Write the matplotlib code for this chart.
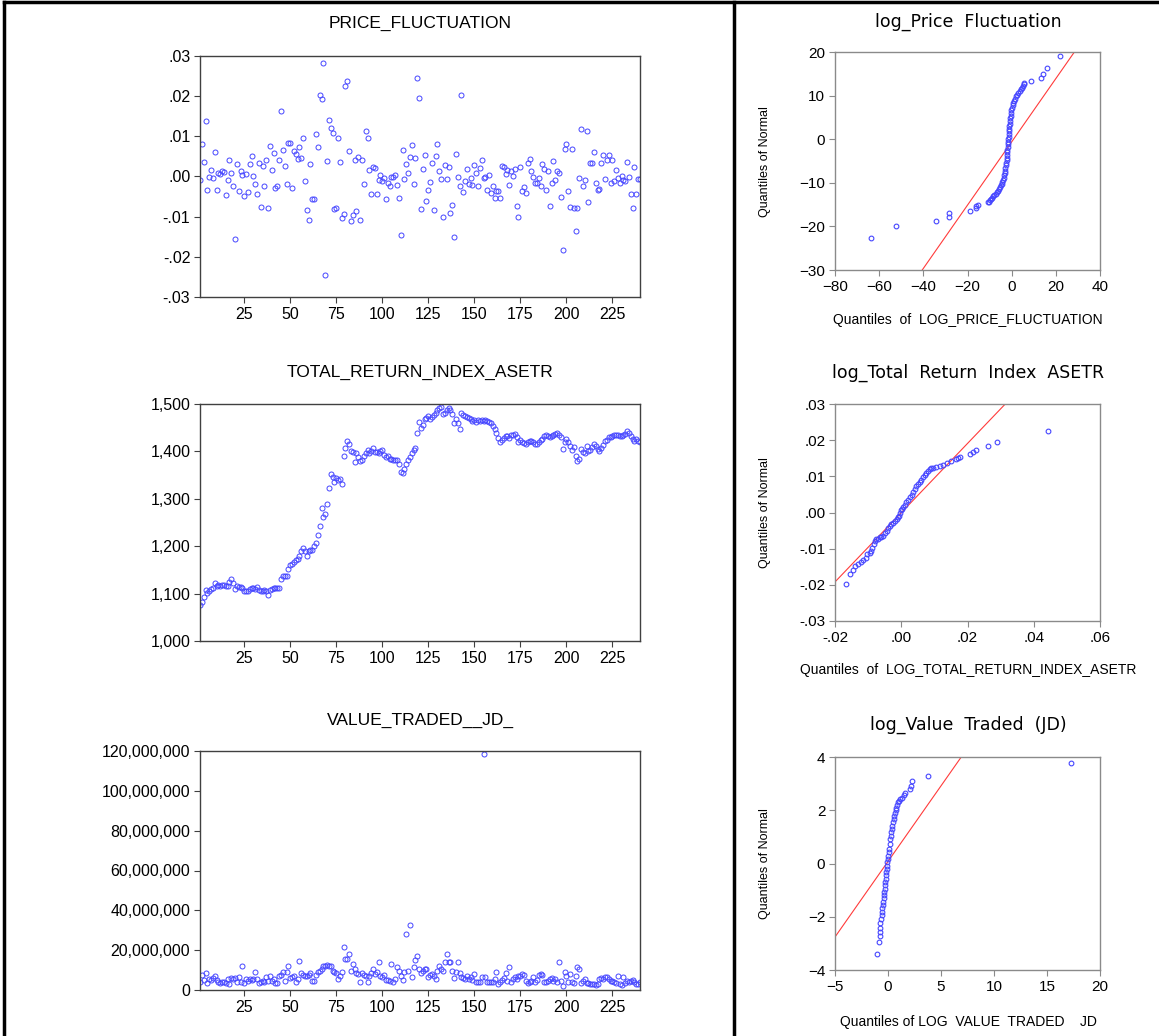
import numpy as np
import matplotlib
matplotlib.use("Agg")
import matplotlib.pyplot as plt
from matplotlib.ticker import FuncFormatter, MultipleLocator

plt.rcParams['font.family'] = ['Liberation Sans', 'DejaVu Sans']

# ---- time series (index 1..240) ----
price_fluct = [
    -0.8, 8.1, 3.6, 13.7, -3.3, -0.1, 1.6, -0.3, 6.1, -3.3, 0.9, 0.6, 1.3, 1.1, -4.6, -0.9, 4.2, 0.8, -2.4, -15.6,
    3.1, -3.6, 1.4, 0.3, -4.8, 0.7, -3.8, 3.0, 5.2, 0.2, -1.9, -4.4, 3.4, -7.7, 2.6, -2.4, 4.2, -7.9, 7.6, 1.6,
    5.8, -2.8, -2.3, 4.1, 16.4, 6.7, 2.5, -1.9, 8.4, 8.4, -2.9, 6.3, 5.5, 4.3, 7.3, 4.5, 9.6, -1.2, -8.3, -10.8,
    3.0, -5.6, -5.5, 10.5, 7.4, 20.3, 19.2, 28.3, -24.6, 3.8, 14.0, 12.0, 10.9, -8.2, -7.9, 9.5, 3.5, -10.3, -9.3, 22.6,
    23.7, 6.3, -11.2, -9.5, 4.0, -8.7, 4.9, -10.9, 4.0, -1.9, 11.4, 9.5, 1.6, -4.4, 2.4, 2.0, -4.4, -0.8, 0.3, -1.2,
    -0.3, -5.5, -1.5, -2.3, 0.0, 0.0, 0.4, -2.2, -5.3, -14.6, 6.5, -0.5, 3.1, 0.8, 4.9, 7.9, -1.8, 4.5, 24.6, 19.6,
    -8.2, 1.8, 5.4, -6.1, -3.4, -1.3, 3.3, -8.4, 5.1, 8.1, 1.3, -0.6, -10.0, 2.9, -0.7, 2.4, -9.2, -7.1, -15.0, 5.7,
    -0.1, -2.4, 20.4, -3.9, -1.2, 1.8, -1.8, -0.3, -2.1, 2.8, 0.9, -2.4, 2.1, 4.1, -0.3, 0.0, -3.3, 0.4, -4.1, -2.4,
    -5.3, -3.6, -3.6, -5.3, 2.5, 2.3, 0.5, 1.7, -2.2, 1.4, 0.2, 1.8, -7.4, -10.0, 2.3, -3.5, -2.5, -4.0, 3.3, 4.3,
    1.4, 0.0, -1.5, -1.6, -0.4, -2.3, 3.1, 1.8, -3.3, 1.3, -7.4, -1.7, 3.9, -0.9, 1.3, 0.8, -5.2, -18.4, 6.8, 8.0,
    -3.6, -7.6, 6.8, -7.8, -13.5, -7.9, -0.3, 11.9, -2.3, -0.8, 11.4, -6.3, 3.3, 3.3, 6.2, -1.5, -3.4, -3.0, 3.4, 5.3,
    -0.7, 4.0, 5.4, -1.6, 4.1, -1.1, 1.6, -0.3, -1.6, 0.2, -0.8, -1.1, 3.6, 0.0, -4.4, -7.8, 2.3, -4.3, -0.7, -0.5,
]
price_fluct = np.array(price_fluct) / 1000.0

total_return = [
    1076, 1083, 1093, 1107, 1102, 1105, 1110, 1112, 1122, 1115, 1119, 1117, 1119, 1119, 1117, 1115, 1124, 1130, 1122, 1110,
    1116, 1114, 1114, 1112, 1105, 1106, 1105, 1110, 1112, 1112, 1110, 1114, 1107, 1106, 1106, 1107, 1106, 1098, 1108, 1110,
    1112, 1112, 1112, 1112, 1130, 1137, 1137, 1137, 1151, 1160, 1162, 1167, 1171, 1174, 1180, 1190, 1197, 1190, 1180, 1190,
    1191, 1193, 1200, 1207, 1224, 1243, 1280, 1261, 1268, 1290, 1323, 1353, 1346, 1335, 1344, 1340, 1341, 1331, 1390, 1408,
    1421, 1416, 1400, 1399, 1378, 1397, 1389, 1380, 1382, 1390, 1397, 1404, 1397, 1401, 1408, 1399, 1399, 1397, 1400, 1403,
    1392, 1389, 1390, 1383, 1383, 1382, 1382, 1382, 1373, 1357, 1355, 1363, 1373, 1381, 1388, 1396, 1403, 1408, 1438, 1461,
    1450, 1456, 1468, 1471, 1475, 1468, 1473, 1477, 1482, 1487, 1492, 1494, 1478, 1482, 1487, 1492, 1487, 1478, 1459, 1469,
    1459, 1448, 1482, 1477, 1475, 1473, 1471, 1468, 1464, 1466, 1463, 1466, 1464, 1466, 1464, 1466, 1464, 1463, 1459, 1454,
    1447, 1438, 1428, 1419, 1425, 1428, 1432, 1432, 1428, 1434, 1435, 1437, 1430, 1420, 1425, 1420, 1418, 1416, 1419, 1421,
    1421, 1419, 1416, 1416, 1419, 1423, 1427, 1432, 1434, 1432, 1430, 1432, 1434, 1437, 1438, 1435, 1430, 1405, 1419, 1427,
    1419, 1411, 1403, 1410, 1390, 1380, 1384, 1405, 1399, 1397, 1411, 1400, 1404, 1410, 1416, 1411, 1405, 1401, 1407, 1414,
    1421, 1425, 1430, 1430, 1432, 1434, 1435, 1434, 1432, 1432, 1434, 1437, 1442, 1439, 1432, 1427, 1421, 1427, 1421, 1420,
]

value_traded_m = [
    4.0, 7.5, 5.2, 8.6, 3.5, 5.5, 5.2, 5.9, 7.2, 5.2, 3.9, 3.5, 3.9, 4.2, 3.5, 5.5, 3.0, 5.9, 5.5, 5.9,
    3.9, 6.4, 3.9, 12.3, 3.5, 5.5, 4.7, 5.5, 5.2, 5.5, 9.2, 5.5, 3.4, 3.9, 4.7, 3.9, 6.4, 4.7, 6.9, 4.7,
    5.5, 3.5, 3.5, 7.2, 7.6, 9.2, 4.7, 8.9, 11.9, 5.9, 6.4, 6.9, 4.2, 5.5, 14.8, 8.6, 7.6, 6.9, 7.2, 7.6,
    8.6, 4.7, 4.7, 7.6, 9.2, 9.7, 10.6, 12.3, 12.3, 12.8, 12.3, 11.9, 9.7, 8.9, 8.6, 5.5, 7.2, 9.2, 21.5, 15.6,
    15.6, 18.2, 9.7, 13.1, 10.3, 8.6, 8.1, 3.9, 8.6, 7.6, 6.9, 3.9, 6.9, 8.6, 10.6, 8.1, 8.9, 14.3, 7.2, 6.4,
    7.6, 5.2, 5.2, 4.7, 13.1, 4.2, 5.5, 11.4, 9.7, 7.2, 5.0, 8.9, 28.2, 9.7, 32.4, 6.4, 11.4, 15.3, 17.3, 10.3,
    8.6, 9.7, 10.3, 10.6, 6.4, 7.6, 8.1, 7.2, 5.5, 9.7, 12.3, 10.3, 9.7, 14.3, 18.2, 14.3, 13.9, 9.7, 5.9, 8.9,
    13.9, 8.6, 6.4, 5.9, 5.5, 6.9, 5.5, 6.4, 5.2, 8.1, 4.2, 3.9, 4.2, 6.4, 118.5, 6.4, 3.9, 4.2, 3.9, 4.2,
    5.5, 8.9, 3.0, 3.9, 5.2, 5.9, 8.6, 4.7, 11.4, 3.9, 5.5, 6.4, 5.5, 6.9, 7.2, 8.1, 7.6, 4.7, 3.5, 4.2,
    4.7, 6.4, 3.9, 5.2, 7.6, 7.9, 7.6, 3.9, 4.2, 4.7, 5.5, 5.9, 4.7, 5.5, 4.2, 13.9, 4.7, 1.8, 9.2, 7.2,
    4.2, 8.1, 4.2, 3.5, 6.9, 11.4, 10.6, 3.5, 4.7, 5.5, 3.5, 3.5, 3.0, 3.0, 3.0, 2.5, 3.0, 5.5, 5.9, 5.5,
    6.4, 6.4, 5.5, 4.7, 4.7, 3.9, 3.5, 7.2, 3.0, 2.5, 6.4, 3.5, 4.7, 4.2, 4.7, 5.2, 3.9, 3.0, 3.0, 4.0,
]
value_traded = np.array(value_traded_m) * 1e6

# ---- Q-Q plots ----
qq_price_x = [-63.7, -52.4, -34.1, -28.6, -28.6, -19.0, -16.0, -16.0, -15.3,
              -10.7, -10.3, -9.8, -9.3, -8.8, -8.3, -7.8, -7.3, -6.8, -6.3, -5.8, -5.3, -4.9, -4.5, -4.2,
              -3.9, -3.6, -3.4, -3.2, -3.0, -2.8, -2.6, -2.5, -2.3, -2.2, -2.1, -2.0, -1.9, -1.8, -1.7,
              -1.6, -1.5, -1.4, -1.3, -1.2, -1.1, -1.0, -0.9, -0.8, -0.7, -0.5, -0.3, -0.1, 0.2, 0.5,
              0.8, 1.2, 1.6, 2.0, 2.5, 3.0, 3.6, 4.2, 4.8, 5.2, 5.5, 5.6, 8.9, 13.4, 14.1, 15.9, 22.0]
qq_price_y = [-22.7, -20.0, -18.7, -17.8, -17.0, -16.4, -15.8, -15.4, -15.0,
              -14.5, -14.3, -14.0, -13.7, -13.4, -13.1, -12.8, -12.5, -12.1, -11.8, -11.4, -11.0, -10.6, -10.2, -9.8,
              -9.3, -8.8, -8.3, -7.8, -7.2, -6.6, -6.0, -5.4, -4.8, -4.2, -3.6, -3.0, -2.4, -1.8, -1.2,
              -0.6, 0.0, 0.6, 1.2, 1.8, 2.4, 3.0, 3.6, 4.2, 4.8, 5.4, 6.0, 6.6, 7.2, 7.8,
              8.3, 8.8, 9.3, 9.8, 10.2, 10.6, 11.0, 11.4, 11.8, 12.2, 12.6, 12.9, 13.3, 14.0, 15.0, 16.3, 19.0]
qq_price_line_x = [-40.5, 28.4]
qq_price_line_y = [-30.0, 20.0]

qq_tri_x = [-0.0166, -0.0155, -0.0147, -0.0140, -0.0132, -0.0122, -0.0115, -0.0107, -0.0102, -0.0095,
            -0.0090, -0.0087, -0.0083, -0.0078, -0.0075, -0.0070, -0.00645, -0.0060, -0.00544, -0.0050,
            -0.00444, -0.0040, -0.00344, -0.0030, -0.00243, -0.0019, -0.00143, -0.0010, -0.00063, -0.0003,
            -0.00012, 0.0002, 0.00058, 0.0011, 0.00158, 0.0021, 0.00259, 0.0031, 0.00359, 0.0041,
            0.0046, 0.0051, 0.0056, 0.0061, 0.0066, 0.0071, 0.0076, 0.0081, 0.0086, 0.0091,
            0.0096, 0.0106, 0.0116, 0.0126, 0.0138, 0.0151, 0.0164, 0.0171, 0.0176,
            0.0209, 0.0217, 0.0227, 0.0262, 0.0289, 0.0442]
qq_tri_y = [-0.0199, -0.0171, -0.0158, -0.0148, -0.0142, -0.0136, -0.0132, -0.0125, -0.0116, -0.0113,
            -0.0107, -0.0098, -0.0088, -0.0079, -0.0074, -0.0072, -0.0069, -0.0067, -0.0065, -0.0058,
            -0.0051, -0.0044, -0.0037, -0.0033, -0.0028, -0.0023, -0.0018, -0.0013, -0.0009, -0.0001,
            0.0007, 0.0011, 0.0015, 0.0021, 0.0028, 0.0035, 0.0042, 0.0049, 0.0056, 0.0064,
            0.0072, 0.0078, 0.0084, 0.0091, 0.0098, 0.0104, 0.0109, 0.0114, 0.0119, 0.0122,
            0.0124, 0.0126, 0.0129, 0.0132, 0.0138, 0.0143, 0.0147, 0.0152, 0.0154,
            0.0161, 0.0167, 0.0173, 0.0184, 0.0196, 0.0224]
qq_tri_line_x = [-0.02, 0.0314]
qq_tri_line_y = [-0.0192, 0.03]

qq_val_x = [-1.02, -0.86, -0.77, -0.77, -0.77, -0.71, -0.67, -0.61, -0.56, -0.52, -0.48, -0.45, -0.42,
            -0.39, -0.36, -0.33, -0.30, -0.27, -0.23, -0.20, -0.17, -0.14, -0.11, -0.08, -0.03, 0.02,
            0.06, 0.11, 0.15, 0.20, 0.25, 0.30, 0.36, 0.42, 0.48, 0.55, 0.61, 0.67, 0.73, 0.80, 0.88,
            0.96, 1.03, 1.11, 1.36, 1.49, 1.58, 2.05, 2.21, 2.24, 3.75, 17.29]
qq_val_y = [-3.40, -2.93, -2.71, -2.56, -2.41, -2.25, -2.09, -1.94, -1.81, -1.69, -1.56, -1.44, -1.31,
            -1.19, -1.06, -0.94, -0.82, -0.70, -0.57, -0.45, -0.32, -0.20, -0.08, 0.05, 0.18, 0.30,
            0.43, 0.55, 0.74, 0.92, 1.05, 1.17, 1.30, 1.42, 1.54, 1.66, 1.79, 1.91, 2.00, 2.10, 2.20,
            2.31, 2.36, 2.41, 2.47, 2.56, 2.66, 2.81, 2.91, 3.09, 3.30, 3.78]
qq_val_line_x = [-5.0, 6.91]
qq_val_line_y = [-2.76, 4.0]

W, H = 1159, 1036
fig = plt.figure(figsize=(W / 100, H / 100), dpi=100)

BLUE = '#4646ff'
RED = '#ff3b3b'


def frac(x0, top, x1, bottom):
    return [x0 / W, 1 - bottom / H, (x1 - x0) / W, (bottom - top) / H]


def dotfmt(v, pos, nd=2):
    s = f"{abs(v):.{nd}f}".lstrip('0')
    if s == '.' + '0' * nd:
        return s
    return ('-' if v < 0 else '') + s


def style(ax, col, tsize):
    for sp in ax.spines.values():
        sp.set_color(col)
        sp.set_linewidth(1.0)
    ax.tick_params(direction='out', length=4, width=0.8, color=col, labelsize=tsize, pad=3)


def series_panel(rect, y, title, tcy):
    ax = fig.add_axes(frac(*rect))
    idx = np.arange(1, len(y) + 1)
    ax.plot(idx, y, 'o', ms=3.6, mfc='none', mec=BLUE, mew=0.7)
    ax.set_xlim(1, 240)
    ax.set_xticks(range(25, 240, 25))
    style(ax, '#404040', 11.5)
    fig.text(420 / W, 1 - tcy / H, title, ha='center', va='center', fontsize=12.5)
    return ax


def qq_panel(rect, qx, qy, lx, ly, title, tcy, xlabel, xcy, ylcy):
    ax = fig.add_axes(frac(*rect))
    ax.plot(lx, ly, color=RED, lw=0.8)
    ax.plot(qx, qy, 'o', ms=3.4, mfc='none', mec=BLUE, mew=0.8)
    style(ax, '#8a8a8a', 11)
    fig.text(968 / W, 1 - tcy / H, title, ha='center', va='center', fontsize=12.5,
             family=['DejaVu Sans'])
    fig.text(968 / W, 1 - xcy / H, xlabel, ha='center', va='center', fontsize=10)
    fig.text(765 / W, 1 - ylcy / H, 'Quantiles of Normal', ha='center', va='center',
             fontsize=9, rotation=90)
    return ax


# left column
ax1 = series_panel((200, 56, 640, 297), price_fluct, 'PRICE_FLUCTUATION', 23)
ax1.set_ylim(-0.03, 0.03)
ax1.set_yticks(np.arange(-0.03, 0.031, 0.01))
ax1.yaxis.set_major_formatter(FuncFormatter(dotfmt))

ax2 = series_panel((200, 404, 640, 641), total_return, 'TOTAL_RETURN_INDEX_ASETR', 372)
ax2.set_ylim(1000, 1500)
ax2.yaxis.set_major_locator(MultipleLocator(100))
ax2.yaxis.set_major_formatter(FuncFormatter(lambda v, p: f"{v:,.0f}"))

ax3 = series_panel((200, 751, 640, 990), value_traded, 'VALUE_TRADED__JD_', 720)
ax3.set_ylim(0, 120e6)
ax3.yaxis.set_major_locator(MultipleLocator(20e6))
ax3.yaxis.set_major_formatter(FuncFormatter(lambda v, p: f"{v:,.0f}"))

# right column
q1 = qq_panel((835, 52, 1100, 270), qq_price_x, qq_price_y, qq_price_line_x, qq_price_line_y,
              'log_Price  Fluctuation', 22, 'Quantiles  of  LOG_PRICE_FLUCTUATION', 320, 162)
q1.set_xlim(-80, 40)
q1.set_ylim(-30, 20)
q1.xaxis.set_major_locator(MultipleLocator(20))
q1.yaxis.set_major_locator(MultipleLocator(10))

q2 = qq_panel((835, 404, 1100, 621), qq_tri_x, qq_tri_y, qq_tri_line_x, qq_tri_line_y,
              'log_Total  Return  Index  ASETR', 373, 'Quantiles  of  LOG_TOTAL_RETURN_INDEX_ASETR', 670, 513)
q2.set_xlim(-0.02, 0.06)
q2.set_ylim(-0.03, 0.03)
q2.set_xticks(np.arange(-0.02, 0.061, 0.02))
q2.set_yticks(np.arange(-0.03, 0.031, 0.01))
q2.xaxis.set_major_formatter(FuncFormatter(dotfmt))
q2.yaxis.set_major_formatter(FuncFormatter(dotfmt))

q3 = qq_panel((835, 757, 1100, 970), qq_val_x, qq_val_y, qq_val_line_x, qq_val_line_y,
              'log_Value  Traded  (JD)', 725, 'Quantiles of LOG  VALUE  TRADED    JD', 1022, 864)
q3.set_xlim(-5, 20)
q3.set_ylim(-4, 4)
q3.xaxis.set_major_locator(MultipleLocator(5))
q3.yaxis.set_major_locator(MultipleLocator(2))

# outer frame lines
fig.add_artist(plt.Line2D([4 / W, 1], [1 - 2 / H, 1 - 2 / H], color='black', lw=2.5))
fig.add_artist(plt.Line2D([4 / W, 4 / W], [0, 1 - 2 / H], color='black', lw=2.5))
fig.add_artist(plt.Line2D([734 / W, 734 / W], [0, 1 - 2 / H], color='black', lw=2.5))

fig.savefig('out.png', dpi=100)
